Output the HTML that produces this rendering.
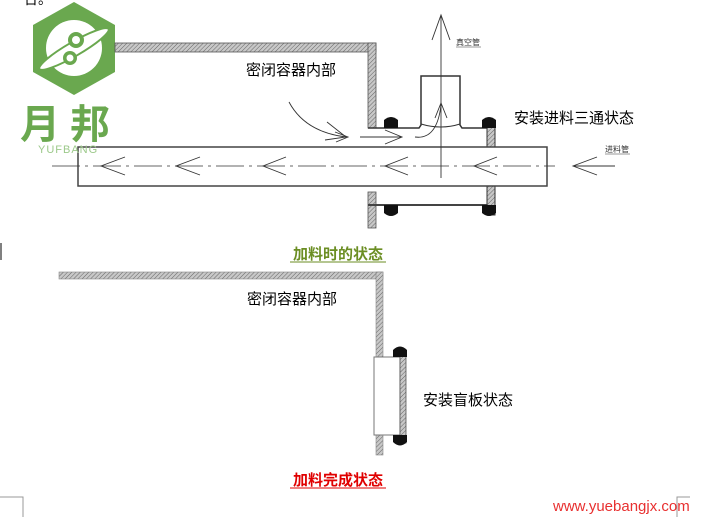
<!DOCTYPE html>
<html><head><meta charset="utf-8"><style>
html,body{margin:0;padding:0;background:#fff;width:706px;height:517px;overflow:hidden}
svg{display:block}
text{font-family:"Liberation Sans","Noto Sans CJK SC",sans-serif}
</style></head><body>
<svg width="706" height="517" viewBox="0 0 706 517" xmlns="http://www.w3.org/2000/svg">
<defs>
<pattern id="h" width="3" height="3" patternUnits="userSpaceOnUse" patternTransform="rotate(45)">
<rect width="3" height="3" fill="#c8c8c8"/><line x1="0" y1="0" x2="0" y2="3" stroke="#666" stroke-width="1"/>
</pattern>
</defs>
<text x="24" y="4" font-size="14" fill="#000">台。</text>
<!-- logo -->
<polygon points="74,2 115,25 115,72 74,95 33,72 33,25" fill="#6aa84f"/>
<circle cx="74" cy="48" r="28" fill="#fff"/>
<ellipse cx="74" cy="49" rx="40" ry="7" transform="rotate(-30 74 49)" fill="#fff" stroke="#6aa84f" stroke-width="2"/>
<circle cx="76" cy="40" r="8" fill="#6aa84f"/>
<circle cx="76" cy="40" r="4" fill="#fff"/>
<circle cx="70" cy="58" r="7" fill="#6aa84f"/>
<circle cx="70" cy="58" r="3.5" fill="#fff"/>
<text x="20" y="138" font-size="40" font-weight="bold" fill="#6aa84f" letter-spacing="10">月邦</text>
<!-- container wall top -->
<rect x="115" y="43" width="261" height="9" fill="url(#h)" stroke="#555" stroke-width="0.8"/>
<rect x="368" y="43" width="8" height="85" fill="url(#h)" stroke="#555" stroke-width="0.8"/>
<rect x="368" y="192" width="8" height="36" fill="url(#h)" stroke="#555" stroke-width="0.8"/>
<text x="246" y="75" font-size="15" fill="#000">密闭容器内部</text>
<path d="M368,128 L419,128 L421,125 L421,76 L460,76 L460,125 L462,128 L487,128" fill="none" stroke="#333" stroke-width="1.5"/>
<line x1="368" y1="205" x2="487" y2="205" stroke="#444" stroke-width="2"/>
<path d="M421,124 Q441,130 460,124" fill="none" stroke="#333" stroke-width="1"/>
<rect x="487" y="120" width="8" height="95" fill="url(#h)" stroke="#333" stroke-width="1"/>
<path d="M384,128 L384,120 Q391,114 398,120 L398,128 Z" fill="#111"/>
<path d="M384,205 L384,213 Q391,219 398,213 L398,205 Z" fill="#111"/>
<path d="M482,128 L482,120 Q489,114 496,120 L496,128 Z" fill="#111"/>
<path d="M482,205 L482,213 Q489,219 496,213 L496,205 Z" fill="#111"/>
<rect x="78" y="147" width="469" height="39" fill="#fff" stroke="#444" stroke-width="1.5"/>
<text x="38" y="153" font-size="11" fill="#9cc98a" letter-spacing="1">YUFBANG</text>
<line x1="52" y1="166" x2="555" y2="166" stroke="#333" stroke-width="0.8" stroke-dasharray="28,5,3,5"/>
<g fill="none" stroke="#333" stroke-width="0.9">
<path d="M125,157 L101,166 L125,175"/>
<path d="M200,157 L176,166 L200,175"/>
<path d="M286,157 L263,166 L286,175"/>
<path d="M408,157 L385,166 L408,175"/>
<path d="M497,157 L474,166 L497,175"/>
<path d="M597,157 L573,166 L597,175"/>
<line x1="573" y1="166" x2="615" y2="166"/>
<path d="M385,130 L402,137 L385,144"/>
<path d="M335,132 L348,137 L336,142"/>
<line x1="360" y1="137" x2="402" y2="137"/>
<path d="M289,102 Q305,132 346,137"/>
<path d="M327,122 L346,137 L325,140"/>
<path d="M415,137 Q437,140 441,105"/>
<path d="M435,118 L441,103 L447,118"/>
<line x1="441" y1="15" x2="441" y2="178"/>
<path d="M432,40 L441,15 L450,40"/>
</g>
<text x="456" y="45" font-size="8" fill="#333">真空管</text>
<line x1="456" y1="47" x2="481" y2="47" stroke="#333" stroke-width="0.6"/>
<text x="605" y="152" font-size="8" fill="#333">进料管</text>
<line x1="605" y1="154" x2="630" y2="154" stroke="#333" stroke-width="0.6"/>
<text x="514" y="123" font-size="15" fill="#000">安装进料三通状态</text>
<line x1="1" y1="243" x2="1" y2="260" stroke="#000" stroke-width="1"/>
<text x="338" y="259" font-size="15" font-weight="bold" fill="#6b8e23" text-anchor="middle">加料时的状态</text>
<line x1="290" y1="262" x2="386" y2="262" stroke="#6b8e23" stroke-width="1"/>
<rect x="59" y="272" width="324" height="7" fill="url(#h)" stroke="#888" stroke-width="0.6"/>
<rect x="376" y="272" width="7" height="85" fill="url(#h)" stroke="#888" stroke-width="0.6"/>
<rect x="376" y="435" width="7" height="20" fill="url(#h)" stroke="#888" stroke-width="0.6"/>
<text x="247" y="304" font-size="15" fill="#000">密闭容器内部</text>
<rect x="374" y="357" width="26" height="78" fill="#fff" stroke="#777" stroke-width="1"/>
<rect x="400" y="350" width="6" height="93" fill="url(#h)" stroke="#555" stroke-width="0.8"/>
<path d="M393,357 L393,350 Q400,343 407,350 L407,357 Z" fill="#111"/>
<path d="M393,435 L393,442 Q400,449 407,442 L407,435 Z" fill="#111"/>
<text x="423" y="405" font-size="15" fill="#000">安装盲板状态</text>
<text x="338" y="485" font-size="15" font-weight="bold" fill="#e00000" text-anchor="middle">加料完成状态</text>
<line x1="290" y1="488" x2="386" y2="488" stroke="#e00000" stroke-width="1"/>
<text x="553" y="511" font-size="15" fill="#e83030">www.yuebangjx.com</text>
<path d="M0,497 L23,497 L23,517" fill="none" stroke="#999" stroke-width="1"/>
<path d="M677,517 L677,497 L690,497" fill="none" stroke="#999" stroke-width="1"/>
</svg>
</body></html>
